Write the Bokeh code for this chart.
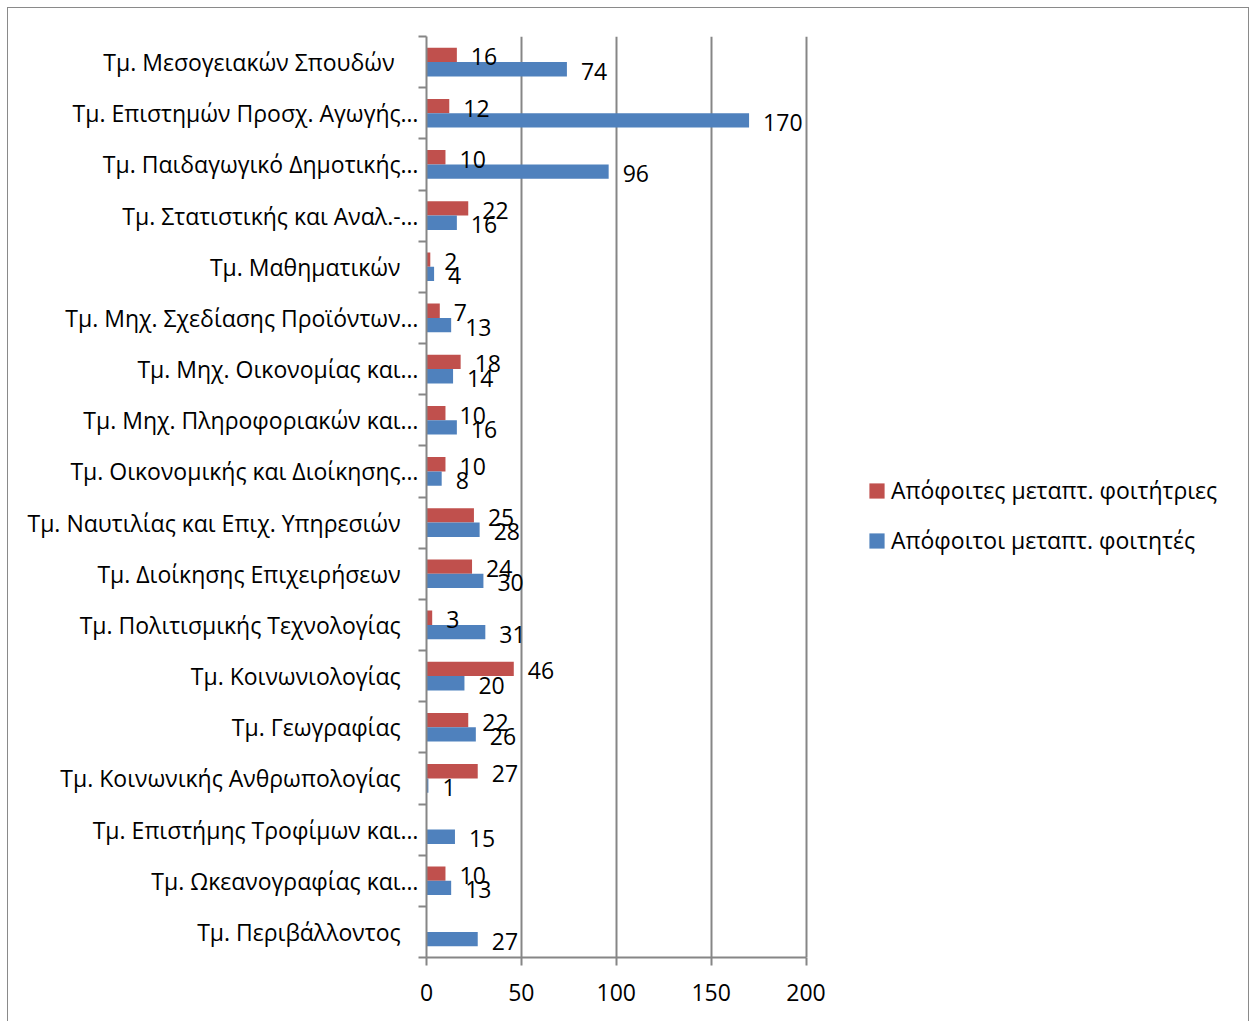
from bokeh.plotting import figure
from bokeh.models import (Range1d, LinearAxis, FixedTicker,
                          ColumnDataSource, Legend, LegendItem, Grid)
from bokeh.transform import dodge
from bokeh.core.properties import value
from bokeh.embed import file_html
from bokeh.resources import INLINE

NB = "\u00a0"
categories = [
    "Τμ. Μεσογειακών Σπουδών" + NB * 4,
    "Τμ. Επιστημών Προσχ. Αγωγής…",
    "Τμ. Παιδαγωγικό Δημοτικής…",
    "Τμ. Στατιστικής και Αναλ.-…",
    "Τμ. Μαθηματικών" + NB * 3,
    "Τμ. Μηχ. Σχεδίασης Προϊόντων…",
    "Τμ. Μηχ. Οικονομίας και…",
    "Τμ. Μηχ. Πληροφοριακών και…",
    "Τμ. Οικονομικής και Διοίκησης…",
    "Τμ. Ναυτιλίας και Επιχ. Υπηρεσιών" + NB * 3,
    "Τμ. Διοίκησης Επιχειρήσεων" + NB * 3,
    "Τμ. Πολιτισμικής Τεχνολογίας" + NB * 3,
    "Τμ. Κοινωνιολογίας" + NB * 3,
    "Τμ. Γεωγραφίας" + NB * 3,
    "Τμ. Κοινωνικής Ανθρωπολογίας" + NB * 3,
    "Τμ. Επιστήμης Τροφίμων και…",
    "Τμ. Ωκεανογραφίας και…",
    "Τμ. Περιβάλλοντος" + NB * 3,
]
female = [16, 12, 10, 22, 2, 7, 18, 10, 10, 25, 24, 3, 46, 22, 27, None, 10, None]
male = [74, 170, 96, 16, 4, 13, 14, 16, 8, 28, 30, 31, 20, 26, 1, 15, 13, 27]
x_ticks = [0, 50, 100, 150, 200]
x_max = 200
series_names = ["Απόφοιτες μεταπτ. φοιτήτριες", "Απόφοιτοι μεταπτ. φοιτητές"]

RED = "#C0504D"
BLUE = "#4F81BD"
GRAY = "#868686"
FONT = "Open Sans"
FS = "23px"

n = len(categories)
# each category occupies 2 units on the y scale; first category at the top
centers = [2 * (n - 1 - i) + 1 for i in range(n)]
boundaries = list(range(0, 2 * n + 1, 2))
OFF = 0.28
BAR_H = 0.56

fem_vals = [float("nan") if v is None else v for v in female]
src = ColumnDataSource(dict(yc=centers, f=fem_vals, m=male))
fsrc = ColumnDataSource(dict(yc=[c for c, v in zip(centers, female) if v is not None],
                             f=[v for v in female if v is not None],
                             lbl=[str(v) for v in female if v is not None]))
msrc = ColumnDataSource(dict(yc=centers, m=male, lbl=[str(v) for v in male]))

# plot frame runs to the right edge (room for the legend); the value axis spans 0..200
FRAME_W = 824
AXIS_W = 379.5
p = figure(width=1242, height=1015, y_range=Range1d(0, 2 * n),
           x_range=Range1d(0, x_max * FRAME_W / AXIS_W),
           output_backend="svg", toolbar_location=None,
           x_axis_location=None, y_axis_location=None,
           min_border_left=418, min_border_right=0, min_border_top=28, min_border_bottom=66)
p.outline_line_color = None
p.styles = {"border": "1px solid #8a8a8a", "margin-left": "7px", "margin-top": "7px"}
for g in p.grid:
    g.visible = False

# category axis: labels at centres, minor ticks at category boundaries
cat_axis = LinearAxis(ticker=FixedTicker(ticks=centers, minor_ticks=boundaries),
                      major_label_overrides={c: lab for c, lab in zip(centers, categories)})
cat_axis.axis_line_color = GRAY
cat_axis.axis_line_width = 2
cat_axis.major_tick_line_color = None
cat_axis.major_tick_out = 8
cat_axis.major_tick_in = 0
cat_axis.minor_tick_line_color = GRAY
cat_axis.minor_tick_line_width = 2
cat_axis.minor_tick_out = 8
cat_axis.minor_tick_in = 0
cat_axis.major_label_standoff = 0
cat_axis.major_label_text_font = FONT
cat_axis.major_label_text_font_size = FS
cat_axis.major_label_text_color = "black"
p.add_layout(cat_axis, "left")

x_axis = LinearAxis(ticker=FixedTicker(ticks=x_ticks), bounds=(0, x_max))
x_axis.axis_line_color = GRAY
x_axis.axis_line_width = 2
x_axis.major_tick_line_color = GRAY
x_axis.major_tick_line_width = 2
x_axis.major_tick_out = 8
x_axis.major_tick_in = 0
x_axis.minor_tick_line_color = None
x_axis.major_label_standoff = 18
x_axis.major_label_text_font = FONT
x_axis.major_label_text_font_size = FS
x_axis.major_label_text_color = "black"
p.add_layout(x_axis, "below")

p.add_layout(Grid(dimension=0, ticker=FixedTicker(ticks=x_ticks),
                  grid_line_color=GRAY, grid_line_width=2))

r_red = p.hbar(y=dodge("yc", OFF), left=0, right="f", height=BAR_H,
               source=src, fill_color=RED, line_color=None)
r_blue = p.hbar(y=dodge("yc", -OFF), left=0, right="m", height=BAR_H,
                source=src, fill_color=BLUE, line_color=None)

p.text(x="f", y=dodge("yc", OFF), text="lbl", source=fsrc,
       text_font=value(FONT), text_font_size=FS, text_color="black",
       text_align="left", text_baseline="middle", x_offset=14, y_offset=2)
p.text(x="m", y=dodge("yc", -OFF), text="lbl", source=msrc,
       text_font=value(FONT), text_font_size=FS, text_color="black",
       text_align="left", text_baseline="middle", x_offset=14, y_offset=2)

legend = Legend(items=[LegendItem(label=series_names[0], renderers=[r_red]),
                       LegendItem(label=series_names[1], renderers=[r_blue])],
                location=(441, 401), orientation="vertical")
legend.background_fill_alpha = 0
legend.border_line_color = None
legend.padding = 0
legend.margin = 0
legend.spacing = 18
legend.glyph_width = 19
legend.glyph_height = 19
legend.label_standoff = 5
legend.label_text_font = FONT
legend.label_text_font_size = FS
legend.label_text_color = "black"
p.add_layout(legend, "center")

open("out.html", "w").write(file_html(p, INLINE))
